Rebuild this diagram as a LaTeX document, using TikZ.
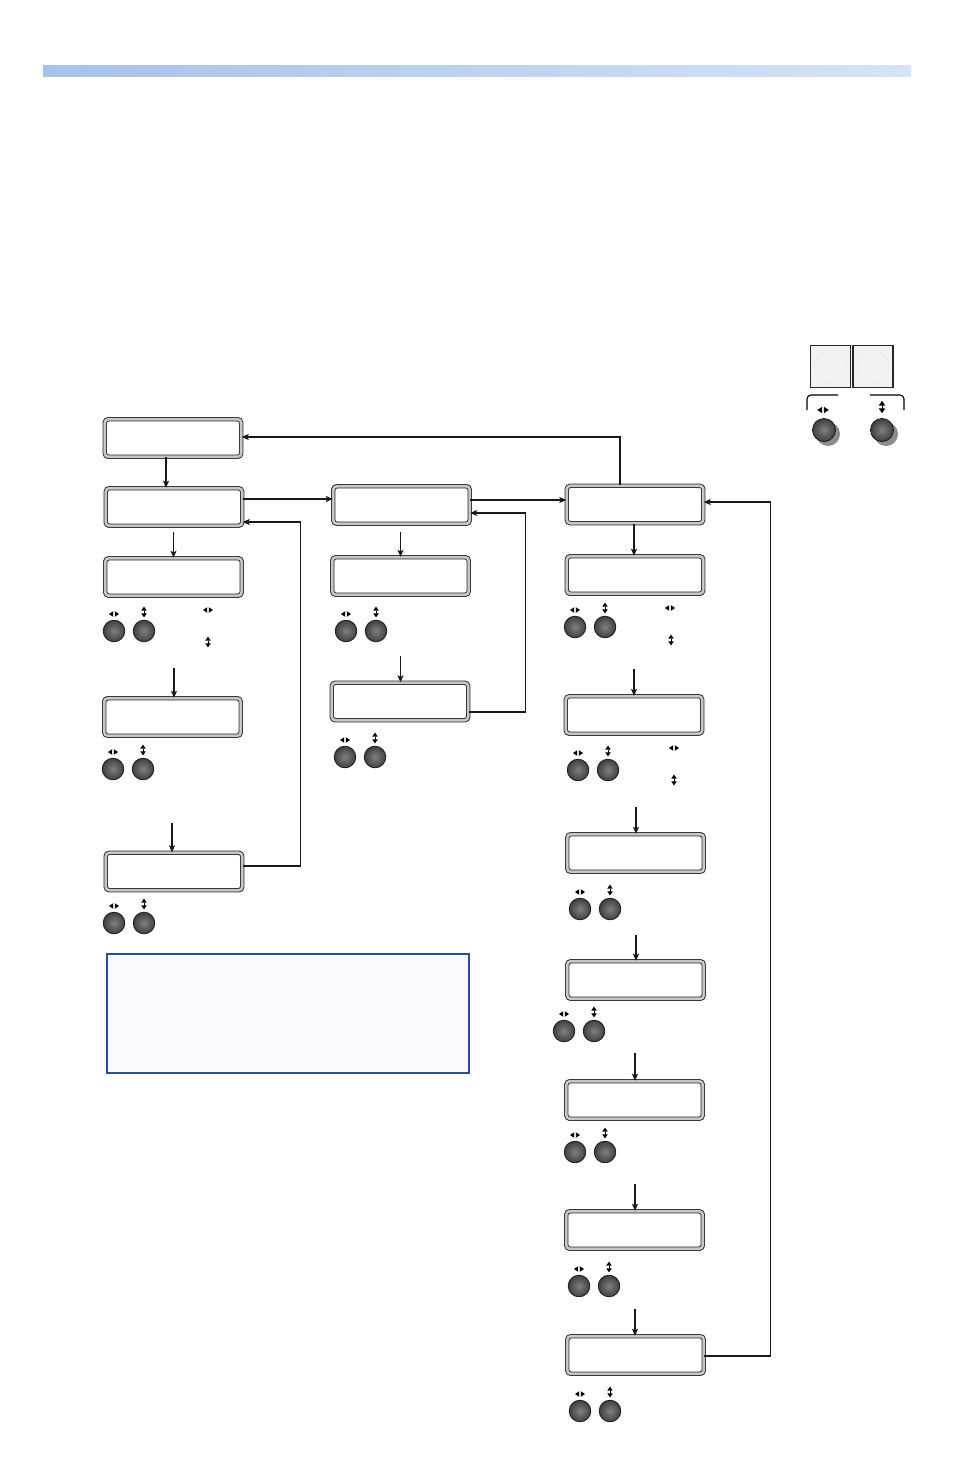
\documentclass[tikz,border=0pt]{standalone}
\usetikzlibrary{arrows.meta}
\definecolor{barL}{HTML}{A6C2E8}
\definecolor{barR}{HTML}{D6E3F5}
\definecolor{noteblue}{HTML}{2A4C9E}
\definecolor{notefill}{HTML}{F8F9FF}
\tikzset{
  lcd/.style={draw=black!85, line width=0.9pt, double=black!22, double distance=2.6pt,
    fill=white, rounded corners=3.5pt, minimum width=136.5pt, minimum height=37.5pt, inner sep=0pt},
  arr/.style={draw=black!90, line width=1.1pt, -{Stealth[length=7pt,width=6pt,inset=1.5pt]}},
  tarr/.style={arr, line width=1.6pt},
  btn/.style={draw=black!90, line width=0.8pt, inner color=black!50, outer color=black!75},
  lricon/.pic={\fill (-0.8,-2.8) -- (-5,0) -- (-0.8,2.8) -- cycle;
               \fill (0.8,-2.8) -- (5,0) -- (0.8,2.8) -- cycle;},
  udicon/.pic={\fill (-2.8,-1.3) -- (0,-5.4) -- (2.8,-1.3) -- cycle;
               \fill (-2.8,1.3) -- (0,5.4) -- (2.8,1.3) -- cycle;
               \draw[line width=0.5pt] (0,-1.5) -- (0,1.5);},
  btnpair/.pic={\shade[btn] (0,0) circle (10.8);
                \shade[btn] (30,0) circle (10.8);
                \pic at (0,-17) {lricon};
                \pic at (30,-19) {udicon};}
}
\begin{document}
\begin{tikzpicture}[x=1pt,y=-1pt]
\useasboundingbox (0,0) rectangle (954,1474);
% top bar
\shade[left color=barL, right color=barR] (43,66) rectangle (911,77);

% column 1
\node[lcd] (B0) at (173,438) {};
\node[lcd] (B1) at (174,507) {};
\node[lcd] (B2) at (173.5,577) {};
\node[lcd] (B3) at (172.5,717) {};
\node[lcd] (B4) at (174,871.5) {};
% column 2
\node[lcd] (C1) at (401.5,505) {};
\node[lcd] (C2) at (400.5,576) {};
\node[lcd] (C3) at (400,701.5) {};
% column 3
\node[lcd] (D1) at (635,504.5) {};
\node[lcd] (D2) at (635,575) {};
\node[lcd] (D3) at (634,715) {};
\node[lcd] (D4) at (635.5,853) {};
\node[lcd] (D5) at (635.5,980) {};
\node[lcd] (D6) at (634.5,1100) {};
\node[lcd] (D7) at (634.5,1230) {};
\node[lcd] (D8) at (635.5,1355) {};

% note box
\node[draw=noteblue, fill=notefill, line width=1.8pt, minimum width=362pt, minimum height=119pt, inner sep=0pt] (note) at (288,1013.5) {};

% buttons
\pic at (114,631) {btnpair};
\pic at (113,769) {btnpair};
\pic at (114,923) {btnpair};
\pic at (346,631) {btnpair};
\pic at (345,757) {btnpair};
\pic at (575,627) {btnpair};
\pic at (578,770) {btnpair};
\pic at (580,909) {btnpair};
\pic at (564,1031) {btnpair};
\pic at (575,1152) {btnpair};
\pic at (579,1286) {btnpair};
\pic at (580,1411) {btnpair};
% extra icons
\pic at (208,610) {lricon};
\pic at (208,642) {udicon};
\pic at (670,608) {lricon};
\pic at (671,640) {udicon};
\pic at (674,748) {lricon};
\pic at (674,780) {udicon};

% arrows column 1
\draw[tarr] ([xshift=-7pt]B0.south) -- ([xshift=-8pt]B1.north);
\draw[arr] ([yshift=26pt]B2.north) -- (B2.north);
\draw[arr] ([xshift=1.5pt,yshift=30pt]B3.north) -- ([xshift=1.5pt]B3.north);
\draw[arr] ([xshift=-2pt,yshift=29pt]B4.north) -- ([xshift=-2pt]B4.north);
% column 2
\draw[arr] ([yshift=25pt]C2.north) -- (C2.north);
\draw[arr] ([xshift=0.5pt,yshift=26pt]C3.north) -- ([xshift=0.5pt]C3.north);
% column 3
\draw[tarr] ([xshift=-1pt]D1.south) -- ([xshift=-1pt]D2.north);
\draw[arr] ([yshift=27pt]D3.north) -- (D3.north);
\draw[arr] ([xshift=0.5pt,yshift=27pt]D4.north) -- ([xshift=0.5pt]D4.north);
\draw[tarr] ([xshift=0.5pt,yshift=26pt]D5.north) -- ([xshift=0.5pt]D5.north);
\draw[tarr] ([xshift=0.5pt,yshift=28pt]D6.north) -- ([xshift=0.5pt]D6.north);
\draw[arr] ([xshift=0.5pt,yshift=27pt]D7.north) -- ([xshift=0.5pt]D7.north);
\draw[arr] ([xshift=-0.5pt,yshift=27pt]D8.north) -- ([xshift=-0.5pt]D8.north);

% horizontal links
\draw[tarr] ([yshift=8pt]B1.east) -- ([yshift=6pt]C1.west);
\draw[arr] ([yshift=5pt]C1.east) -- ([yshift=4.5pt]D1.west);

% feedback loops
\draw[arr] ([yshift=5.5pt]B4.east) -- ++(58,0) |- ([yshift=-15pt]B1.east);
\draw[arr] ([yshift=-10.5pt]C3.east) -- ++(57,0) |- ([yshift=-8pt]C1.east);
\draw[arr] ([xshift=-15pt]D1.north) |- ([yshift=1pt]B0.east);
\draw[arr] ([yshift=-1pt]D8.east) -- ++(66,0) |- ([yshift=2.5pt]D1.east);

% top-right panel
\node[draw=black!85, line width=1.1pt, fill=black!5, minimum width=40pt, minimum height=42pt, inner sep=0pt] (P1) at (830.5,366.5) {};
\node[draw=black!85, line width=1.1pt, fill=black!5, minimum width=40pt, minimum height=42pt, inner sep=0pt] (P2) at (873,366.5) {};
\draw[black!10, line width=0.4pt] (P1) circle (16);
\draw[black!10, line width=0.4pt] (P2) circle (16);
\draw[line width=1.1pt, rounded corners=4pt] (807,410) -- (807,395) -- (838,395);
\draw[line width=1.1pt, rounded corners=4pt] (870,395) -- (904,395) -- (904,410);
\fill[black!45] (828,434) circle (12);
\fill[black!45] (886,434) circle (12);
\shade[btn] (824,430) circle (11.5);
\shade[btn] (882,430) circle (11.5);
\pic[scale=1.15] at (823,410) {lricon};
\pic[scale=1.15] at (882,407) {udicon};
\end{tikzpicture}
\end{document}
